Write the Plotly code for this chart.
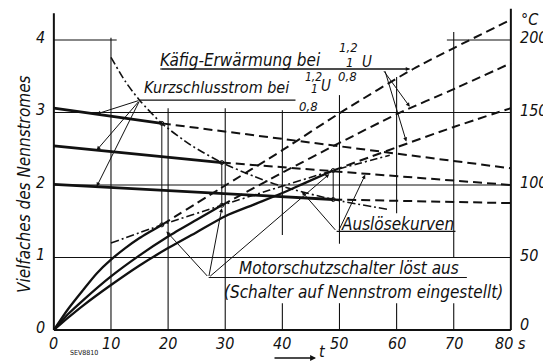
import plotly.graph_objects as go

# ---------------- data ----------------
x_ticks = [0, 10, 20, 30, 40, 50, 60, 70, 80]
x_ticktext = ["0", "10", "20", "30", "40", "50", "60", "70", "80 s"]
y_ticks = [0, 1, 2, 3, 4]
y2_ticks = [0, 50, 100, 150, 200]

# trip moments of the motor protection switch (s)
trip_t = [18.9, 29.4, 48.9]
# short-circuit current (multiple of rated current) at 1.2 U, 1 U, 0.8 U
cur_start = [3.06, 2.54, 2.01]
cur_trip = [2.85, 2.31, 1.80]
cur_end = [2.23, 2.00, 1.75]
cur_end_t = 80

# heating until trip (solid)
heat_t = [
    [0, 2.5, 5.1, 7.5, 10, 12.5, 15, 18.9],
    [0, 2.5, 5.1, 10, 15, 20, 25, 29.4],
    [0, 2.5, 5, 10, 15, 20, 25, 30, 35, 40, 44, 48.9],
]
heat_v = [
    [0, 0.29, 0.55, 0.78, 0.97, 1.13, 1.27, 1.45],
    [0, 0.22, 0.41, 0.74, 1.03, 1.29, 1.52, 1.72],
    [0, 0.17, 0.33, 0.62, 0.89, 1.13, 1.35, 1.57, 1.73, 1.89, 2.03, 2.20],
]

# cage heating after trip (dashed)
kaefig_t = [
    [18.9, 29.1, 40, 50, 62.9, 80],
    [29.4, 40, 50, 60.1, 70.2, 80],
    [48.9, 60, 70, 80],
]
kaefig_v = [
    [1.45, 1.95, 2.48, 2.99, 3.60, 4.28],
    [1.72, 2.17, 2.58, 2.98, 3.33, 3.68],
    [2.20, 2.52, 2.80, 3.06],
]

# trip curves (dash-dot)
ausl_I_t = [10, 12.5, 15, 18.9, 24, 29.4, 35, 40, 48.9, 58.8]
ausl_I_v = [3.76, 3.43, 3.17, 2.85, 2.55, 2.31, 2.12, 1.98, 1.80, 1.66]
ausl_T_t = [10, 18.9, 29.4, 37.8, 48.9, 58.8]
ausl_T_v = [1.20, 1.45, 1.72, 1.93, 2.20, 2.41]

# ---------------- layout constants ----------------
OFF = 8                      # page body margin of the html page
W, H = 543, 354
ML, MR, MT, MB = 43, 34, 0, 28
PW, PH = W - ML - MR, H - MT - MB
XR = [-0.5, -0.5 + PW / 5.7125]
YTOP = (330 - OFF) / 72.5
YR = [YTOP - PH / 72.5, YTOP]
INK = "#111111"
FONT = "Liberation Sans Narrow, DejaVu Sans Condensed, sans-serif"

def xp(x):
    return (x - XR[0]) / (XR[1] - XR[0])

def pxx(px):
    return (px - OFF - ML) / PW

def pxy(py):
    return (H - MB - (py - OFF)) / PH

fig = go.Figure()

def line(x, y, width=2, dash=None, shape="linear"):
    fig.add_trace(go.Scatter(
        x=x, y=y, mode="lines", hoverinfo="skip", showlegend=False,
        line=dict(color=INK, width=width, dash=dash, shape=shape, smoothing=0.7)))

DASH = "9px,5px"
DASHDOT = "8px,3px,2px,3px"

for i in range(3):
    line([0, trip_t[i]], [cur_start[i], cur_trip[i]], width=2.8)
    line([trip_t[i], cur_end_t], [cur_trip[i], cur_end[i]], width=2, dash=DASH)
    line(heat_t[i], heat_v[i], width=2.3, shape="spline")
    line(kaefig_t[i], kaefig_v[i], width=2, dash=DASH, shape="spline")
    line([trip_t[i], trip_t[i]], [cur_trip[i], heat_v[i][-1]], width=1)

line(ausl_I_t, ausl_I_v, width=1.6, dash=DASHDOT, shape="spline")
line(ausl_T_t, ausl_T_v, width=1.6, dash=DASHDOT, shape="spline")

fig.add_trace(go.Scatter(
    x=trip_t + trip_t, y=cur_trip + [v[-1] for v in heat_v], mode="markers",
    hoverinfo="skip", showlegend=False,
    marker=dict(symbol="circle-open", size=4, color=INK, line=dict(width=1, color=INK))))

# ---------------- drafting grid ----------------
shapes = []
def seg(x0, y0, x1, y1, w=1.1):
    shapes.append(dict(type="line", xref="x", yref="y", x0=x0, y0=y0, x1=x1, y1=y1,
                       line=dict(color=INK, width=w), layer="below"))

seg(0, 0, 80, 0, 2)
seg(0, 0, 0, 4.37, 2)
seg(80, 0, 80, 4.43, 2)
for yy in [1, 2, 3]:
    seg(0, yy, 80, yy)
seg(0, 4, 11, 4)
seg(68.8, 4, 80, 4)
grid_x = [10, 20, 30, 40, 50, 60, 70]
grid_top = [4.03, 3.06, 3.06, 3.03, 3.24, 3.49, 4.11]
grid_gap = [None, None, None, (0.37, 1.31), (0.37, 1.19), (0.37, 1.61), (0.37, 1.0)]
for gx, gt, gg in zip(grid_x, grid_top, grid_gap):
    if gg is None:
        seg(gx, 0, gx, gt)
    else:
        seg(gx, 0, gx, gg[0])
        seg(gx, gg[1], gx, gt)

# underlines / fraction bars
seg(18.6, 3.6, 62.3, 3.6, 1.2)        # Käfig
seg(15.05, 3.17, 42.3, 3.17, 1.2)     # Kurzschluss
seg(49.5, 1.36, 70.3, 1.36, 1.2)      # Auslösekurven
seg(27.1, 0.724, 72.3, 0.724, 1.2)    # Motorschutz

# ---------------- texts ----------------
ann = []
def txt(x, y, s, size=17, xref="x", yref="y", xanchor="center", yanchor="middle", angle=0):
    ann.append(dict(x=x, y=y, xref=xref, yref=yref, text=s, showarrow=False,
                    xanchor=xanchor, yanchor=yanchor, textangle=angle,
                    font=dict(family=FONT, size=size, color=INK)))

def arrow(x0, y0, x1, y1):
    ann.append(dict(x=x1, y=y1, ax=x0, ay=y0, xref="x", yref="y", axref="x", ayref="y",
                    text="", showarrow=True, arrowhead=2, arrowsize=0.8,
                    arrowwidth=1, arrowcolor=INK, standoff=0, startstandoff=0))

# tick labels
for t, s in zip(x_ticks, x_ticktext):
    txt(xp(t), pxy(343), "<i>" + s + "</i>", size=16, xref="paper", yref="paper")
for t in y_ticks:
    txt(pxx(47), t + 0.04, "<i>%d</i>" % t, size=16, xref="paper", xanchor="right")
for t in y2_ticks:
    txt(pxx(518), t / 50 + (0.08 if t == 0 else 0.03), "<i>%d</i>" % t, size=16,
        xref="paper", xanchor="left")
txt(pxx(519), 4.28, "<i>°C</i>", size=16, xref="paper", xanchor="left")

txt(pxx(24), pxy(184), "<i>Vielfaches des Nennstromes</i>", size=17,
    xref="paper", yref="paper", angle=-90)
txt(pxx(84), pxy(353), "SEV8810", size=7, xref="paper", yref="paper")
txt(pxx(322), pxy(351), "<i>t</i>", size=16, xref="paper", yref="paper")
ann.append(dict(x=pxx(316), y=pxy(358), xref="paper", yref="paper", ax=-43, ay=0,
                text="", showarrow=True, arrowhead=2, arrowsize=0.9, arrowwidth=1.3,
                arrowcolor=INK))

# labels
txt(32.6, 3.73, "<i>Käfig-Erwärmung bei</i>")
txt(51.5, 3.89, "<i>1,2</i>", size=13)
txt(51.7, 3.69, "<i>1</i>", size=13)
txt(54.8, 3.69, "<i>U</i>", size=15)
txt(51.4, 3.49, "<i>0,8</i>", size=13)

txt(28.4, 3.34, "<i>Kurzschlusstrom bei</i>", size=16)
txt(45.4, 3.49, "<i>1,2</i>", size=12)
txt(45.7, 3.32, "<i>1</i>", size=12)
txt(47.7, 3.37, "<i>U</i>", size=15)
txt(44.5, 3.08, "<i>0,8</i>", size=13)

txt(60.2, 1.46, "<i>Auslösekurven</i>")
txt(51.6, 0.86, "<i>Motorschutzschalter löst aus</i>")
txt(54.2, 0.52, "<i>(Schalter auf Nennstrom eingestellt)</i>")

# leaders
arrow(18.6, 3.6, 62.3, 3.6)
arrow(57.6, 3.59, 62.3, 3.08)
arrow(57.9, 3.59, 61.7, 2.60)
arrow(15.05, 3.17, 7.5, 2.98)
arrow(15.05, 3.17, 7.5, 2.48)
arrow(15.05, 3.17, 7.5, 1.98)
arrow(49.5, 1.36, 43.4, 1.91)
arrow(49.8, 1.36, 54.5, 2.14)
arrow(27.1, 0.724, 19.7, 1.36)
arrow(27.1, 0.724, trip_t[1], 1.68)
arrow(27.1, 0.724, 48.2, 2.15)

fig.update_layout(
    width=W, height=H, margin=dict(l=ML, r=MR, t=MT, b=MB, autoexpand=False),
    paper_bgcolor="white", plot_bgcolor="white", showlegend=False,
    xaxis=dict(range=XR, visible=False, fixedrange=True),
    yaxis=dict(range=YR, visible=False, fixedrange=True),
    shapes=shapes, annotations=ann,
)
fig.write_html("out.html")
